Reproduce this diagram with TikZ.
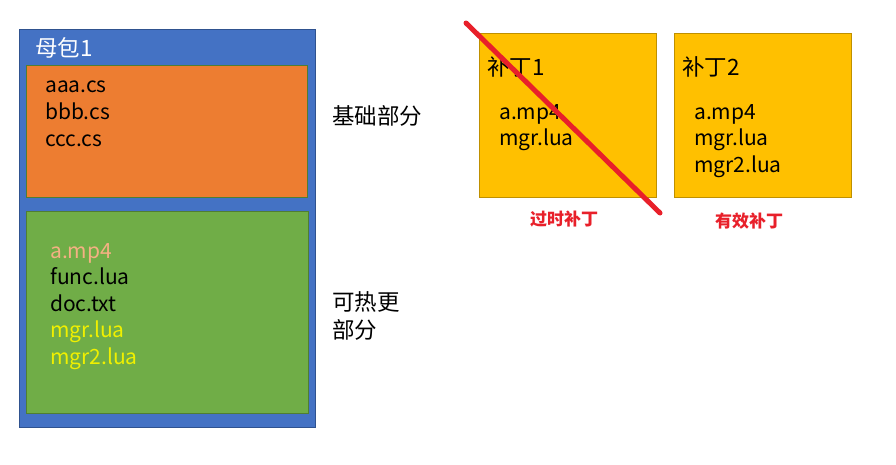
\documentclass[tikz,border=0pt]{standalone}
\usepackage{fontspec}
\setmainfont{Noto Sans CJK SC}
\definecolor{bluefill}{HTML}{4472C4}
\definecolor{blueline}{HTML}{2F528F}
\definecolor{orangefill}{HTML}{ED7D31}
\definecolor{greenfill}{HTML}{70AD47}
\definecolor{greenline}{HTML}{507E32}
\definecolor{goldfill}{HTML}{FFC000}
\definecolor{goldline}{HTML}{BF9000}
\definecolor{peach}{HTML}{F4B183}
\definecolor{lemon}{HTML}{F0F000}
\definecolor{crossred}{HTML}{E8202A}
\begin{document}
\begin{tikzpicture}[x=1pt,y=-1pt,
  file/.style={anchor=base west,inner sep=0pt,font=\fontsize{21}{24}\selectfont},
  title/.style={anchor=base west,inner sep=0pt,font=\fontsize{22.5}{26}\selectfont},
  tag/.style={anchor=base,inner sep=0pt,text=crossred,font=\fontsize{17}{20}\selectfont\bfseries}]
\useasboundingbox (0,0) rectangle (896,464);
% mother package
\draw[blueline,fill=bluefill,line width=1pt] (19,29) rectangle (315,427);
\node[title,text=white] (mtitle) at (35,56) {母包1};
\draw[greenline,fill=orangefill,line width=1pt] (26,65) rectangle (307,197);
\node[file] (f1) at (45,92) {aaa.cs};
\node[file] (f2) at (45,119) {bbb.cs};
\node[file] (f3) at (45,146) {ccc.cs};
\draw[greenline,fill=greenfill,line width=1pt] (26,211) rectangle (308,413);
\node[file,text=peach] (g1) at (50,258) {a.mp4};
\node[file] (g2) at (50,284.5) {func.lua};
\node[file] (g3) at (50,311) {doc.txt};
\node[file,text=lemon] (g4) at (50,337.5) {mgr.lua};
\node[file,text=lemon] (g5) at (50,364) {mgr2.lua};
\node[title] (base) at (332,124.5) {基础部分};
\node[title] (hot1) at (332,310.5) {可热更};
\node[title] (hot2) at (332,338.5) {部分};
% patches
\draw[goldline,fill=goldfill,line width=1pt] (479,33) rectangle (656,197);
\node[title] (p1) at (487,75) {补丁1};
\node[file] (p1a) at (499,119) {a.mp4};
\node[file] (p1b) at (499,145.5) {mgr.lua};
\draw[goldline,fill=goldfill,line width=1pt] (674,33) rectangle (851,197);
\node[title] (p2) at (682,75) {补丁2};
\node[file] (p2a) at (694,119) {a.mp4};
\node[file] (p2b) at (694,145.5) {mgr.lua};
\node[file] (p2c) at (694,172) {mgr2.lua};
\coordinate (xs) at (466,23);
\coordinate (xe) at (660,213);
\draw[crossred,line width=5pt,line cap=round] (xs) -- (xe);
\node[tag] (old) at (564,225.5) {过时补丁};
\node[tag] (ok) at (749,227.5) {有效补丁};
\end{tikzpicture}
\end{document}
